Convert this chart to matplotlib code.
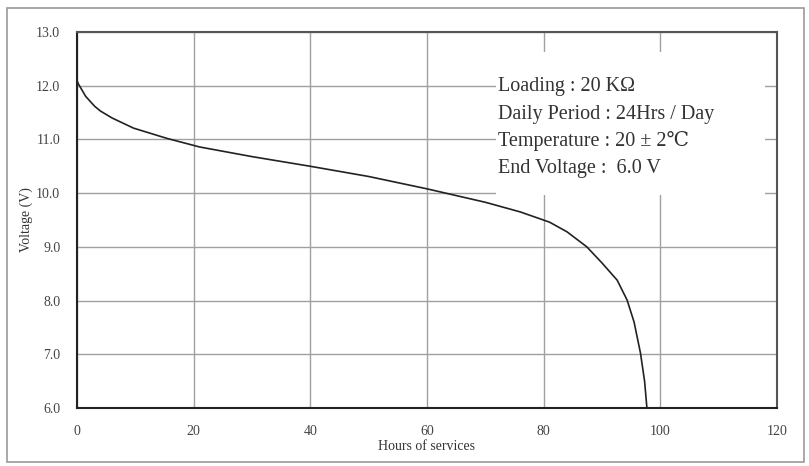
import matplotlib.pyplot as plt
from matplotlib.patches import Rectangle

# discharge curve
hours = [0, 0.2, 1.5, 3, 4, 6, 9.7, 15.4, 21, 30, 40, 50, 60, 70, 76, 81, 84, 87.4,
         90, 92.6, 94.3, 95.5, 96.6, 97.3, 97.7]
volts = [12.1, 12.04, 11.8, 11.62, 11.53, 11.4, 11.21, 11.02, 10.86, 10.68, 10.5, 10.31,
         10.08, 9.83, 9.65, 9.46, 9.28, 9.0, 8.7, 8.38, 8.01, 7.6, 7.02, 6.5, 6.0]

xticks = [0, 20, 40, 60, 80, 100, 120]
yticks = [6.0, 7.0, 8.0, 9.0, 10.0, 11.0, 12.0, 13.0]

notes = ["Loading : 20 K\u03a9",
         "Daily Period : 24Hrs / Day",
         "Temperature : 20 \u00b1 2\u2103",
         "End Voltage :  6.0 V"]

serif = ['Liberation Serif', 'DejaVu Serif', 'DejaVu Sans']
plt.rcParams['font.family'] = serif

W, H = 809, 466
fig = plt.figure(figsize=(W / 100, H / 100), dpi=100)
fig.patches.append(Rectangle((7 / W, 1 - 462 / H), 797 / W, 454 / H,
                             transform=fig.transFigure, fill=False,
                             edgecolor='#999999', linewidth=1.2))

ax = fig.add_axes([77 / W, 1 - 408 / H, 700 / W, 376 / H])
ax.plot(hours, volts, color='#222222', linewidth=1.2, zorder=3)

ax.set_xlim(0, 120)
ax.set_ylim(6, 13)
ax.set_xticks(xticks)
ax.set_yticks(yticks)
ax.set_yticklabels([f"{v:.1f}" for v in yticks])
ax.grid(True, color='#a0a0a0', linewidth=1.0)
ax.tick_params(length=0, labelsize=10, colors='#444444', pad=12)
for name, s in ax.spines.items():
    s.set_color('#222222' if name in ('left', 'bottom') else '#555555')
    s.set_linewidth(1.5)

ax.set_xlabel("Hours of services", fontsize=10, color='#333333', labelpad=2)
ax.set_ylabel("Voltage (V)", fontsize=10, color='#333333', labelpad=2)

# white panel behind the notes, hides the grid there
fig.patches.append(Rectangle((496 / W, 1 - 195 / H), 269 / W, 143 / H,
                             transform=fig.transFigure, facecolor='white',
                             edgecolor='none', zorder=5))
for i, line in enumerate(notes):
    fig.text(498 / W, 1 - (87 + 27 * i) / H, line, fontsize=14.5,
             color='#333333', va='center', ha='left', zorder=6)

fig.savefig("out.png", dpi=100)
